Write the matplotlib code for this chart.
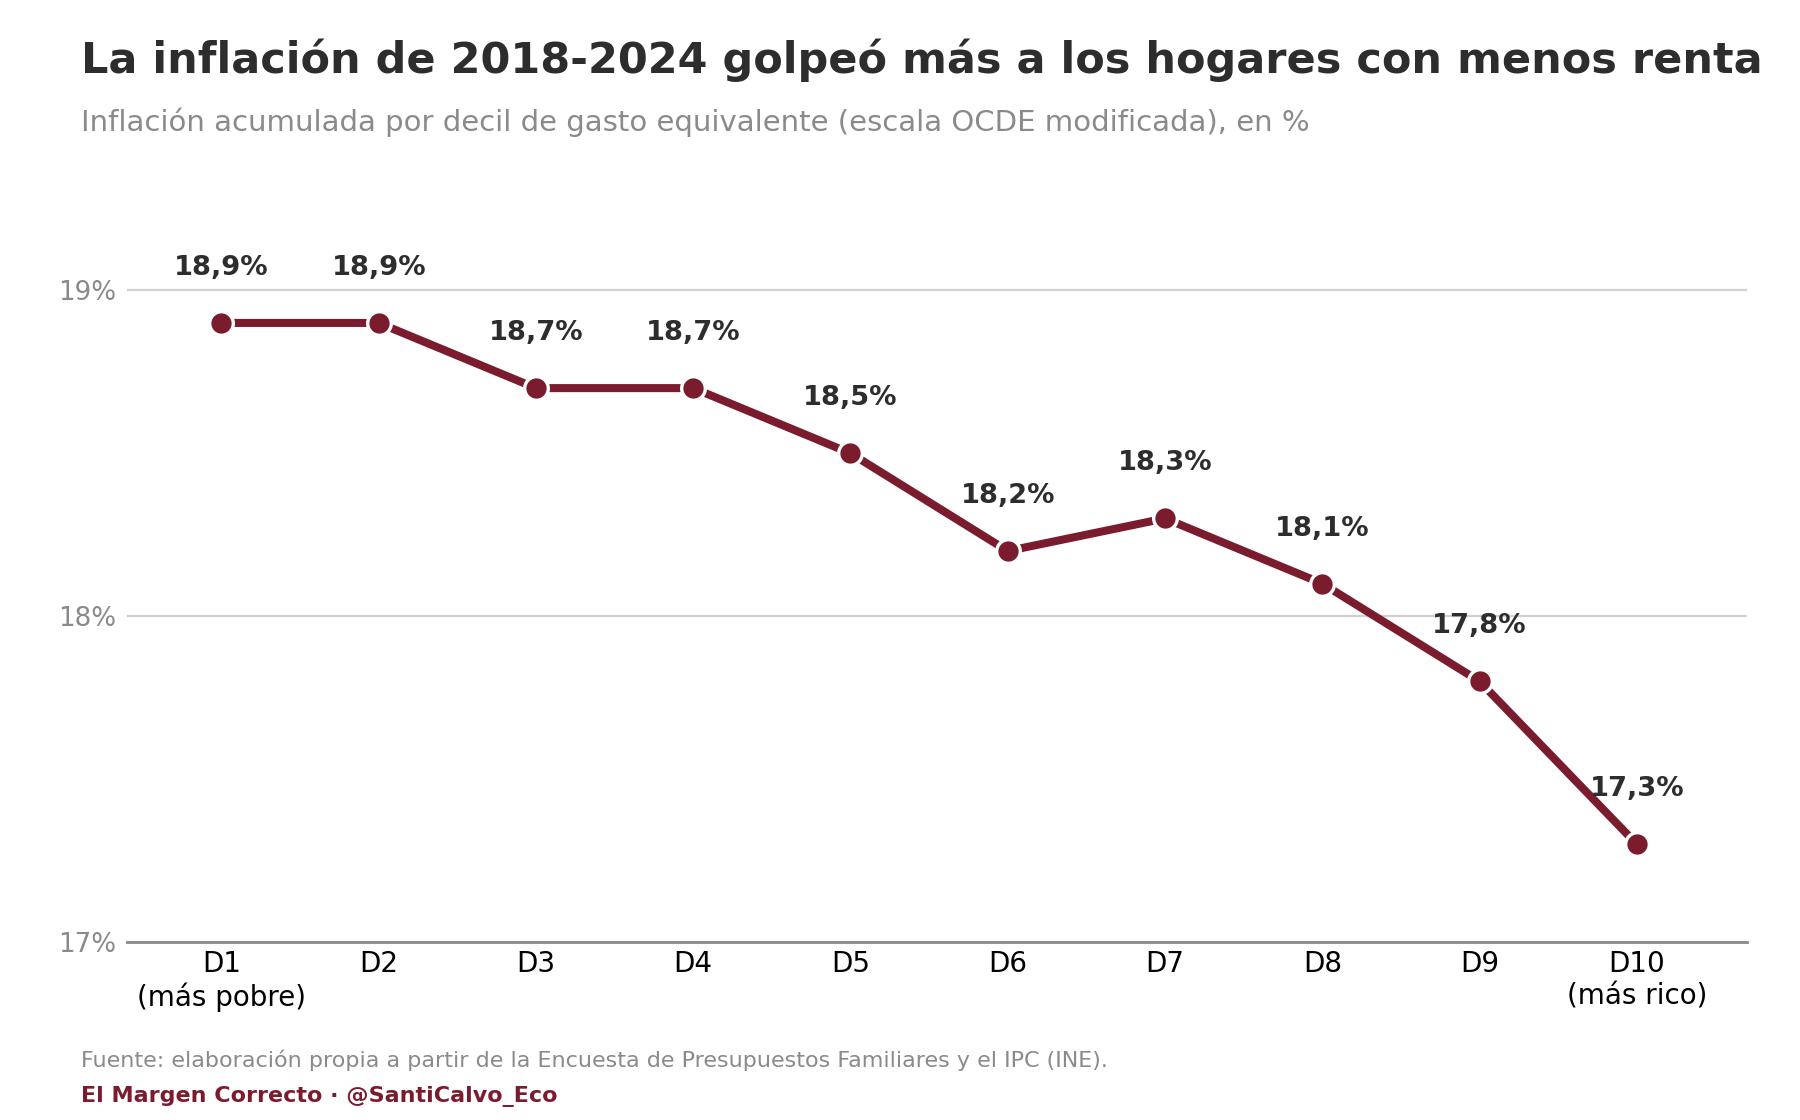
import matplotlib.pyplot as plt
import numpy as np

deciles = ["D1\n(más pobre)", "D2", "D3", "D4", "D5", "D6", "D7", "D8", "D9", "D10\n(más rico)"]
inflacion = [18.9, 18.9, 18.7, 18.7, 18.5, 18.2, 18.3, 18.1, 17.8, 17.3]

ROJO = "#7b1c2e"
OSCURO = "#2d2d2d"
GRIS = "#8a8a8a"

plt.rcParams['font.family'] = ['DejaVu Sans']

fig = plt.figure(figsize=(9, 5.6), dpi=200)
ax = fig.add_axes([0.0706, 0.159, 0.8999, 0.669])

x = np.arange(len(deciles))
ax.plot(x, inflacion, color=ROJO, lw=2.9, marker="o", markersize=8.5,
        markerfacecolor=ROJO, markeredgecolor="white", markeredgewidth=1.2, zorder=3)

# etiquetas de valor encima de cada punto
for xi, v in zip(x, inflacion):
    ax.annotate(f"{v:.1f}%".replace(".", ","), (xi, v), xytext=(0, 19.8),
                textcoords="offset points", ha="center", va="center",
                fontsize=9.8, fontweight="bold", color=OSCURO)

ax.set_xlim(-0.6, 9.7)
ax.set_ylim(17, 19.3)
ax.set_yticks([17, 18, 19])
ax.set_yticklabels(["17%", "18%", "19%"])
ax.set_xticks(x)
ax.set_xticklabels(deciles)
ax.grid(axis="y", color="#d0d0d0", lw=0.8)
ax.set_axisbelow(True)
for s in ["top", "right", "left"]:
    ax.spines[s].set_visible(False)
ax.spines["bottom"].set_color(GRIS)
ax.spines["bottom"].set_linewidth(1.0)
ax.tick_params(axis="y", length=0, labelsize=9.4, labelcolor=GRIS, pad=4)
ax.tick_params(axis="x", length=0, labelsize=10, labelcolor="black", pad=3)

fig.text(0.045, 0.946, "La inflación de 2018-2024 golpeó más a los hogares con menos renta",
         fontsize=15.5, fontweight="bold", color=OSCURO, va="center")
fig.text(0.045, 0.891, "Inflación acumulada por decil de gasto equivalente (escala OCDE modificada), en %",
         fontsize=10.5, color=GRIS, va="center")
fig.text(0.045, 0.0536, "Fuente: elaboración propia a partir de la Encuesta de Presupuestos Familiares y el IPC (INE).",
         fontsize=8, color=GRIS, va="center")
fig.text(0.045, 0.021, "El Margen Correcto · @SantiCalvo_Eco",
         fontsize=8, fontweight="bold", color=ROJO, va="center")

fig.savefig("out.png", dpi=200)
